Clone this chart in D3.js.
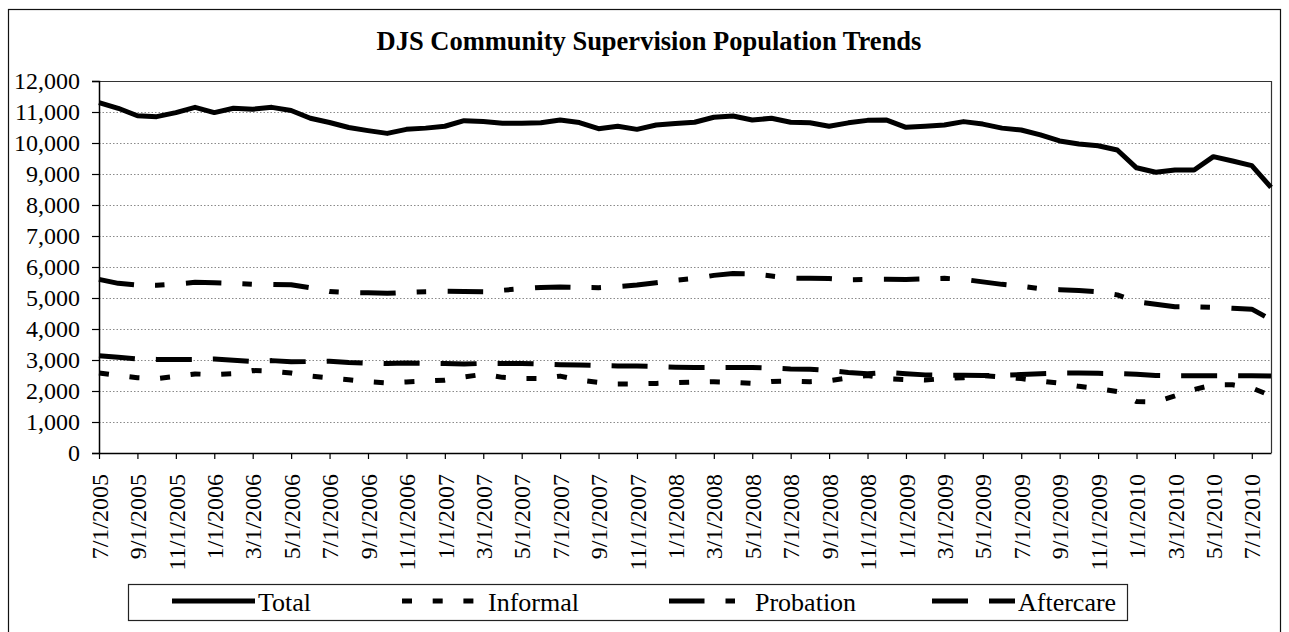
<!DOCTYPE html>
<html>
<head>
<meta charset="utf-8">
<script src="https://cdn.jsdelivr.net/npm/d3@7"></script>
<style>
  html, body { margin: 0; padding: 0; background: #fff; }
  svg { display: block; }
  text { font-family: "Liberation Serif", "Times New Roman", serif; fill: #000; }
</style>
</head>
<body>
<svg id="chart" width="1289" height="632"></svg>
<script>
// Monthly reporting dates (first of month)
const months = [
  "7/1/2005","8/1/2005","9/1/2005","10/1/2005","11/1/2005","12/1/2005",
  "1/1/2006","2/1/2006","3/1/2006","4/1/2006","5/1/2006","6/1/2006",
  "7/1/2006","8/1/2006","9/1/2006","10/1/2006","11/1/2006","12/1/2006",
  "1/1/2007","2/1/2007","3/1/2007","4/1/2007","5/1/2007","6/1/2007",
  "7/1/2007","8/1/2007","9/1/2007","10/1/2007","11/1/2007","12/1/2007",
  "1/1/2008","2/1/2008","3/1/2008","4/1/2008","5/1/2008","6/1/2008",
  "7/1/2008","8/1/2008","9/1/2008","10/1/2008","11/1/2008","12/1/2008",
  "1/1/2009","2/1/2009","3/1/2009","4/1/2009","5/1/2009","6/1/2009",
  "7/1/2009","8/1/2009","9/1/2009","10/1/2009","11/1/2009","12/1/2009",
  "1/1/2010","2/1/2010","3/1/2010","4/1/2010","5/1/2010","6/1/2010",
  "7/1/2010","8/1/2010"
];

// Population counts per month
const total = [
  11300,11120,10880,10850,10980,11150,10980,11120,11090,11150,
  11050,10800,10660,10500,10400,10310,10440,10480,10540,10720,
  10690,10640,10635,10655,10740,10660,10460,10540,10440,10580,
  10630,10670,10830,10870,10740,10800,10670,10655,10540,10650,
  10730,10740,10505,10540,10580,10690,10610,10480,10420,10260,
  10065,9970,9910,9775,9200,9055,9130,9130,9560,9420,
  9270,8570
];
const informal = [
  2580,2500,2430,2400,2470,2550,2530,2560,2660,2640,
  2580,2480,2420,2365,2300,2260,2290,2320,2350,2450,
  2540,2440,2400,2400,2480,2350,2280,2225,2230,2245,
  2270,2290,2300,2280,2245,2310,2320,2300,2330,2420,
  2500,2400,2370,2354,2400,2430,2494,2450,2400,2320,
  2250,2150,2080,1980,1660,1650,1840,2050,2200,2200,
  2100,1850
];
const probation = [
  5602,5473,5419,5408,5450,5505,5490,5470,5440,5440,
  5430,5333,5210,5175,5170,5150,5180,5204,5215,5210,
  5204,5250,5300,5340,5355,5340,5333,5370,5420,5495,
  5570,5630,5730,5790,5780,5710,5640,5635,5630,5590,
  5600,5602,5600,5620,5635,5600,5520,5440,5380,5300,
  5270,5240,5200,5100,4880,4800,4720,4720,4700,4670,
  4640,4300
];
const aftercare = [
  3139,3085,3030,3020,3020,3020,3030,2990,2950,2980,
  2940,2950,2960,2920,2900,2885,2900,2890,2885,2870,
  2890,2890,2890,2870,2850,2840,2820,2810,2805,2790,
  2770,2760,2760,2760,2760,2740,2710,2700,2660,2600,
  2560,2600,2560,2520,2510,2510,2500,2510,2530,2560,
  2580,2580,2570,2560,2540,2500,2490,2490,2490,2490,
  2490,2480
];

const seriesNames = ["Total", "Informal", "Probation", "Aftercare"];
const yTicks = [0,1000,2000,3000,4000,5000,6000,7000,8000,9000,10000,11000,12000];
const tickLabels = months.filter((m, i) => i % 2 === 0);

const series = [
  { name: seriesNames[0], values: total,     dash: null },
  { name: seriesNames[1], values: informal,  dash: "10,20.7" },
  { name: seriesNames[2], values: probation, dash: "35.5,21,9.5,21.5" },
  { name: seriesNames[3], values: aftercare, dash: "36,21" }
];

const serif = "'Liberation Serif', 'Times New Roman', serif";
const svg = d3.select("#chart");
const plot = { left: 99, right: 1271, top: 81, bottom: 453 };

// Outer chart frame
svg.append("rect")
  .attr("x", 8.5).attr("y", 9.5)
  .attr("width", 1272).attr("height", 640)
  .attr("fill", "#fff").attr("stroke", "#111").attr("stroke-width", 1.2);

// Title
svg.append("text")
  .attr("x", 649).attr("y", 50)
  .attr("text-anchor", "middle")
  .attr("font-weight", "bold")
  .attr("font-size", 26.5)
  .text("DJS Community Supervision Population Trends");

const x = d3.scalePoint().domain(months).range([plot.left, plot.right]);
const y = d3.scaleLinear().domain([0, 12000]).range([plot.bottom, plot.top]);

// Dotted horizontal gridlines
svg.append("g")
  .selectAll("line")
  .data(yTicks.filter(v => v > 0))
  .join("line")
  .attr("x1", plot.left).attr("x2", plot.right)
  .attr("y1", d => y(d) + 0.5).attr("y2", d => y(d) + 0.5)
  .attr("stroke", "#8a8a8a")
  .attr("stroke-width", 1)
  .attr("stroke-dasharray", "1.5,2");

// Plot area border (top and right)
svg.append("path")
  .attr("d", `M${plot.left},${plot.top + 0.5}H${plot.right + 0.5}V${plot.bottom}`)
  .attr("fill", "none").attr("stroke", "#333").attr("stroke-width", 1.2);

// Y axis
const yAxis = svg.append("g")
  .attr("transform", `translate(${plot.left},0)`)
  .call(d3.axisLeft(y).tickValues(yTicks).tickSize(7).tickPadding(12)
    .tickFormat(d3.format(",")));
yAxis.select(".domain").attr("stroke", "#000").attr("stroke-width", 1.5);
yAxis.selectAll(".tick line").attr("stroke", "#000").attr("stroke-width", 1.2);
yAxis.selectAll(".tick text")
  .attr("font-family", serif)
  .attr("font-size", 24).attr("fill", "#000");

// X axis: tick every other month
const xAxis = svg.append("g")
  .attr("transform", `translate(0,${plot.bottom})`)
  .call(d3.axisBottom(x).tickValues(tickLabels).tickSize(6).tickSizeOuter(0));
xAxis.select(".domain").attr("stroke", "#000").attr("stroke-width", 1.5);
xAxis.selectAll(".tick line").attr("stroke", "#000").attr("stroke-width", 1.2);
xAxis.selectAll(".tick text")
  .attr("font-family", serif)
  .attr("font-size", 24).attr("fill", "#000")
  .attr("text-anchor", "end")
  .attr("transform", "rotate(-90)")
  .attr("x", -21).attr("y", 0).attr("dy", "0.34em");

// Series lines
const line = d3.line()
  .x((d, i) => x(months[i]))
  .y(d => y(d));

svg.append("g")
  .selectAll("path")
  .data(series)
  .join("path")
  .attr("d", d => line(d.values))
  .attr("fill", "none")
  .attr("stroke", "#000")
  .attr("stroke-width", 5)
  .attr("stroke-linejoin", "round")
  .attr("stroke-dasharray", d => d.dash);

// Legend
const legend = svg.append("g");
legend.append("rect")
  .attr("x", 128.5).attr("y", 584.5)
  .attr("width", 999).attr("height", 36)
  .attr("fill", "#fff").attr("stroke", "#222").attr("stroke-width", 1.2);

const legendX = [172, 402, 669, 932];
const item = legend.selectAll("g.item")
  .data(series)
  .join("g")
  .attr("class", "item")
  .attr("transform", (d, i) => `translate(${legendX[i]},601)`);
item.append("line")
  .attr("x1", 0).attr("x2", 83)
  .attr("stroke", "#000").attr("stroke-width", 5)
  .attr("stroke-dasharray", d => d.dash);
item.append("text")
  .attr("x", 86).attr("y", 10)
  .attr("font-size", 26)
  .text(d => d.name);
</script>
</body>
</html>
